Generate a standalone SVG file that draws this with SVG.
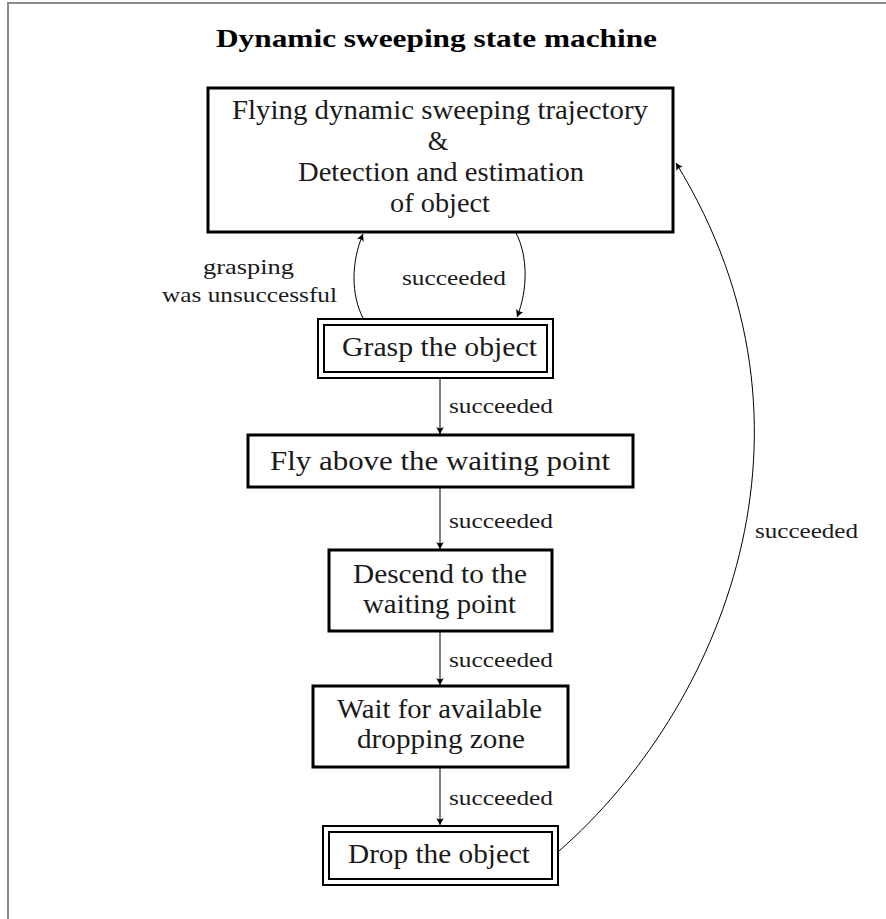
<svg xmlns="http://www.w3.org/2000/svg" width="886" height="919" viewBox="0 0 886 919">
<defs>
<style>
text{font-family:'Liberation Serif','Times New Roman',serif}
.box{fill:#fff;stroke:#000;stroke-width:3}
.dbl{fill:none;stroke:#000;stroke-width:2}
.t{font-size:26.5px;fill:#1a1a1a;text-anchor:middle}
.lbl{font-size:22px;fill:#1a1a1a}
.title{font-size:26px;font-weight:bold;fill:#000;text-anchor:middle}
.edge{fill:none;stroke:#000;stroke-width:1}
</style>
<marker id="ah" viewBox="-9 -5 10 10" refX="0" refY="0" markerWidth="10" markerHeight="10" markerUnits="userSpaceOnUse" orient="auto">
<path d="M0,0 L-7,-3.8 Q-4.5,0 -7,3.8 Z" fill="#000"/>
</marker>
</defs>
<rect width="886" height="919" fill="#fff"/>
<path d="M8 919 V3 H886" fill="none" stroke="#8a8a8a" stroke-width="2"/>
<text class="title" x="436.5" y="47" textLength="441" lengthAdjust="spacingAndGlyphs">Dynamic sweeping state machine</text>

<g id="connectors">
<path class="edge" d="M363 318 C351 295, 351 262, 363 234" marker-end="url(#ah)"/>
<path class="edge" d="M516 233 C528 256, 528 290, 517 317" marker-end="url(#ah)"/>
<path class="edge" d="M440 379 V434" marker-end="url(#ah)"/>
<path class="edge" d="M440 488 V549" marker-end="url(#ah)"/>
<path class="edge" d="M440 632 V685" marker-end="url(#ah)"/>
<path class="edge" d="M440 768 V825" marker-end="url(#ah)"/>
<path class="edge" d="M559 851 C720 710, 840 430, 676 163" marker-end="url(#ah)"/>
<text class="lbl" x="248.5" y="274" text-anchor="middle" textLength="91" lengthAdjust="spacingAndGlyphs">grasping</text>
<text class="lbl" x="249.5" y="302" text-anchor="middle" textLength="175" lengthAdjust="spacingAndGlyphs">was unsuccessful</text>
<text class="lbl" x="402" y="285" textLength="104" lengthAdjust="spacingAndGlyphs">succeeded</text>
<text class="lbl" x="449" y="413" textLength="104" lengthAdjust="spacingAndGlyphs">succeeded</text>
<text class="lbl" x="449" y="528" textLength="104" lengthAdjust="spacingAndGlyphs">succeeded</text>
<text class="lbl" x="449" y="667" textLength="104" lengthAdjust="spacingAndGlyphs">succeeded</text>
<text class="lbl" x="449" y="805" textLength="104" lengthAdjust="spacingAndGlyphs">succeeded</text>
<text class="lbl" x="755" y="538" textLength="103" lengthAdjust="spacingAndGlyphs">succeeded</text>
</g>

<g id="sweep">
<rect class="box" x="208" y="88" width="465" height="144"/>
<text class="t" x="440" y="119" textLength="416" lengthAdjust="spacingAndGlyphs">Flying dynamic sweeping trajectory</text>
<text class="t" x="438" y="150">&amp;</text>
<text class="t" x="441" y="181" textLength="286" lengthAdjust="spacingAndGlyphs">Detection and estimation</text>
<text class="t" x="440" y="212" textLength="100" lengthAdjust="spacingAndGlyphs">of object</text>
</g>

<g id="grasp">
<rect class="dbl" x="318" y="319" width="235" height="59" fill="#fff"/>
<rect class="dbl" x="324" y="325" width="223" height="47"/>
<text class="t" x="439.5" y="356" textLength="195" lengthAdjust="spacingAndGlyphs">Grasp the object</text>
</g>

<g id="fly">
<rect class="box" x="248" y="435" width="385" height="52"/>
<text class="t" x="440" y="470" textLength="340" lengthAdjust="spacingAndGlyphs">Fly above the waiting point</text>
</g>

<g id="descend">
<rect class="box" x="329" y="550" width="223" height="81"/>
<text class="t" x="440" y="583" textLength="174" lengthAdjust="spacingAndGlyphs">Descend to the</text>
<text class="t" x="439.5" y="613" textLength="153" lengthAdjust="spacingAndGlyphs">waiting point</text>
</g>

<g id="wait">
<rect class="box" x="313" y="686" width="255" height="81"/>
<text class="t" x="439.5" y="718" textLength="205" lengthAdjust="spacingAndGlyphs">Wait for available</text>
<text class="t" x="441" y="748" textLength="168" lengthAdjust="spacingAndGlyphs">dropping zone</text>
</g>

<g id="drop">
<rect class="dbl" x="323" y="826" width="235" height="59"/>
<rect class="dbl" x="329" y="832" width="223" height="47"/>
<text class="t" x="439" y="863" textLength="182" lengthAdjust="spacingAndGlyphs">Drop the object</text>
</g>
</svg>
